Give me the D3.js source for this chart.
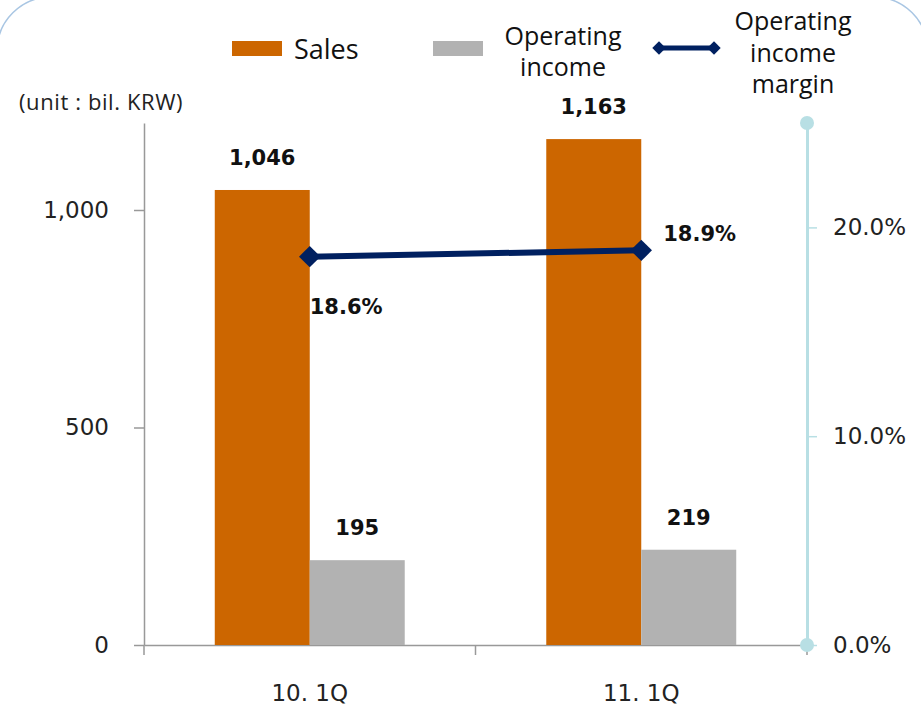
<!DOCTYPE html>
<html lang="en">
<head>
<meta charset="UTF-8">
<title>Sales / Operating income</title>
<style>
    body { margin: 0; background: #fff; }
    svg { display: block; }
</style>
</head>
<body>
<script src="https://cdn.jsdelivr.net/npm/d3@7"></script>
<script>
    // data
    var categories = ["10. 1Q", "11. 1Q"];
    var sales = [1046, 1163];
    var opIncome = [195, 219];
    var margin = [18.6, 18.9];          // %
    var leftTicks = [0, 500, 1000];
    var rightTicks = [0, 10, 20];
    var seriesNames = ["Sales", "Operating income"];

    var W = 921, H = 713;
    var svg = d3.select("body").append("svg").attr("width", W).attr("height", H);

    // rounded frame, mostly cropped
    svg.append("rect")
        .attr("x", -3).attr("y", -3).attr("width", 931).attr("height", 780)
        .attr("rx", 54).attr("ry", 54)
        .attr("fill", "none").attr("stroke", "#a9c6e3").attr("stroke-width", 1.5);

    // plot box (note: "top" is a reserved window prop)
    var pLeft = 144, pRight = 807, pBottom = 645, pTop = 123;

    var x0 = d3.scaleBand().domain(categories).range([pLeft, pRight]).paddingInner(0).paddingOuter(0);
    var x1 = d3.scaleBand().domain(seriesNames).range([0, x0.bandwidth()]).paddingInner(0).paddingOuter(0.745);
    var y = d3.scaleLinear().domain([0, 1200]).range([pBottom, pTop]);
    var y2 = d3.scaleLinear().domain([0, 25]).range([pBottom, pTop]);
    var colors = ["#cc6600", "#b2b2b2"];

    var rows = categories.map(function (c, i) {
        return { cat: c, values: [sales[i], opIncome[i]], margin: margin[i] };
    });

    // left axis
    var gl = svg.append("g").attr("transform", "translate(" + pLeft + ",0)")
        .call(d3.axisLeft(y).tickValues(leftTicks).tickFormat(d3.format(",")).tickSize(10).tickSizeOuter(0).tickPadding(25));
    gl.select(".domain").attr("stroke", "#999").attr("stroke-width", 1.5);
    gl.selectAll(".tick line").attr("stroke", "#999").attr("stroke-width", 1.5);
    gl.selectAll(".tick text").attr("font-family", "DejaVu Sans").attr("font-size", 23).attr("fill", "#222");

    // bottom axis
    var gb = svg.append("g").attr("transform", "translate(0," + pBottom + ")")
        .call(d3.axisBottom(x0).tickSize(0).tickPadding(40));
    gb.select(".domain").attr("stroke", "#999").attr("stroke-width", 1.5);
    gb.selectAll(".tick text").attr("font-family", "DejaVu Sans").attr("font-size", 23).attr("fill", "#222");
    var bounds = [x0(categories[0])].concat(categories.map(function (c) { return x0(c) + x0.bandwidth(); }));
    gb.selectAll("line.bound").data(bounds).enter().append("line")
        .attr("class", "bound")
        .attr("x1", function (d) { return d; }).attr("x2", function (d) { return d; })
        .attr("y1", 0).attr("y2", 10)
        .attr("stroke", "#999").attr("stroke-width", 1.5);

    // bars
    var groups = svg.selectAll("g.cat").data(rows).enter().append("g")
        .attr("class", "cat")
        .attr("transform", function (d) { return "translate(" + x0(d.cat) + ",0)"; });
    groups.selectAll("rect").data(function (d) { return d.values; }).enter().append("rect")
        .attr("x", function (d, i) { return x1(seriesNames[i]); })
        .attr("width", x1.bandwidth())
        .attr("y", function (d) { return y(d); })
        .attr("height", function (d) { return pBottom - y(d); })
        .attr("fill", function (d, i) { return colors[i]; });
    groups.selectAll("text").data(function (d) { return d.values; }).enter().append("text")
        .attr("x", function (d, i) { return x1(seriesNames[i]) + x1.bandwidth() / 2; })
        .attr("y", function (d) { return y(d) - 25; })
        .attr("text-anchor", "middle")
        .attr("font-family", "DejaVu Sans").attr("font-weight", "bold").attr("font-size", 21)
        .attr("fill", "#111")
        .text(function (d) { return d3.format(",")(d); });

    // right axis
    var gr = svg.append("g").attr("transform", "translate(" + pRight + ",0)")
        .call(d3.axisRight(y2).tickValues(rightTicks).tickFormat(function (d) { return d.toFixed(1) + "%"; }).tickSize(10).tickSizeOuter(0).tickPadding(16));
    gr.select(".domain").attr("stroke", "#b8dfe4").attr("stroke-width", 3);
    gr.selectAll(".tick line").attr("stroke", "#b8dfe4").attr("stroke-width", 1.5);
    gr.selectAll(".tick text").attr("font-family", "DejaVu Sans").attr("font-size", 23).attr("fill", "#222");
    gr.selectAll("circle.end").data(y2.domain()).enter().append("circle")
        .attr("cy", function (d) { return y2(d); }).attr("r", 7).attr("fill", "#b8dfe4");

    // margin line
    var cx = function (d) { return x0(d.cat) + x0.bandwidth() / 2; };
    var line = d3.line().x(cx).y(function (d) { return y2(d.margin); });
    svg.append("path").datum(rows).attr("d", line)
        .attr("fill", "none").attr("stroke", "#002060").attr("stroke-width", 6);
    var diamond = d3.symbol(d3.symbolSquare, 230);
    svg.selectAll("path.mk").data(rows).enter().append("path")
        .attr("class", "mk").attr("d", diamond)
        .attr("transform", function (d) { return "translate(" + cx(d) + "," + y2(d.margin) + ") rotate(45)"; })
        .attr("fill", "#002060");
    svg.selectAll("text.mg").data(rows).enter().append("text")
        .attr("class", "mg")
        .attr("x", function (d, i) { return cx(d) + (i === 0 ? 0 : 22); })
        .attr("y", function (d, i) { return y2(d.margin) + (i === 0 ? 57 : -9); })
        .attr("font-family", "DejaVu Sans").attr("font-weight", "bold").attr("font-size", 21)
        .attr("fill", "#111")
        .text(function (d) { return d.margin.toFixed(1) + "%"; });

    // unit label
    svg.append("text").attr("x", 19).attr("y", 110)
        .attr("font-family", "Open Sans").attr("font-size", 22).attr("letter-spacing", 0.6).attr("fill", "#222")
        .text("(unit : bil. KRW)");

    // legend
    var lg = svg.append("g").attr("font-family", "Open Sans").attr("fill", "#111");
    lg.append("rect").attr("x", 232).attr("y", 41).attr("width", 50).attr("height", 15).attr("fill", colors[0]);
    lg.append("text").attr("x", 294).attr("y", 59).attr("font-size", 27).text("Sales");
    lg.append("rect").attr("x", 433).attr("y", 41).attr("width", 50).attr("height", 15).attr("fill", colors[1]);
    lg.append("text").attr("x", 563).attr("y", 45).attr("text-anchor", "middle").attr("font-size", 25)
        .selectAll("tspan").data(["Operating", "income"]).enter().append("tspan")
        .attr("x", 563).attr("dy", function (d, i) { return i ? 31 : 0; }).text(function (d) { return d; });
    lg.append("line").attr("x1", 659).attr("x2", 714).attr("y1", 48).attr("y2", 48)
        .attr("stroke", "#002060").attr("stroke-width", 5);
    lg.selectAll("path.lm").data([659, 714]).enter().append("path")
        .attr("class", "lm").attr("d", d3.symbol(d3.symbolSquare, 90))
        .attr("transform", function (d) { return "translate(" + d + ",48) rotate(45)"; })
        .attr("fill", "#002060");
    lg.append("text").attr("x", 793).attr("y", 30).attr("text-anchor", "middle").attr("font-size", 25)
        .selectAll("tspan").data(["Operating", "income", "margin"]).enter().append("tspan")
        .attr("x", 793).attr("dy", function (d, i) { return i ? 31.5 : 0; }).text(function (d) { return d; });
</script>
</body>
</html>
